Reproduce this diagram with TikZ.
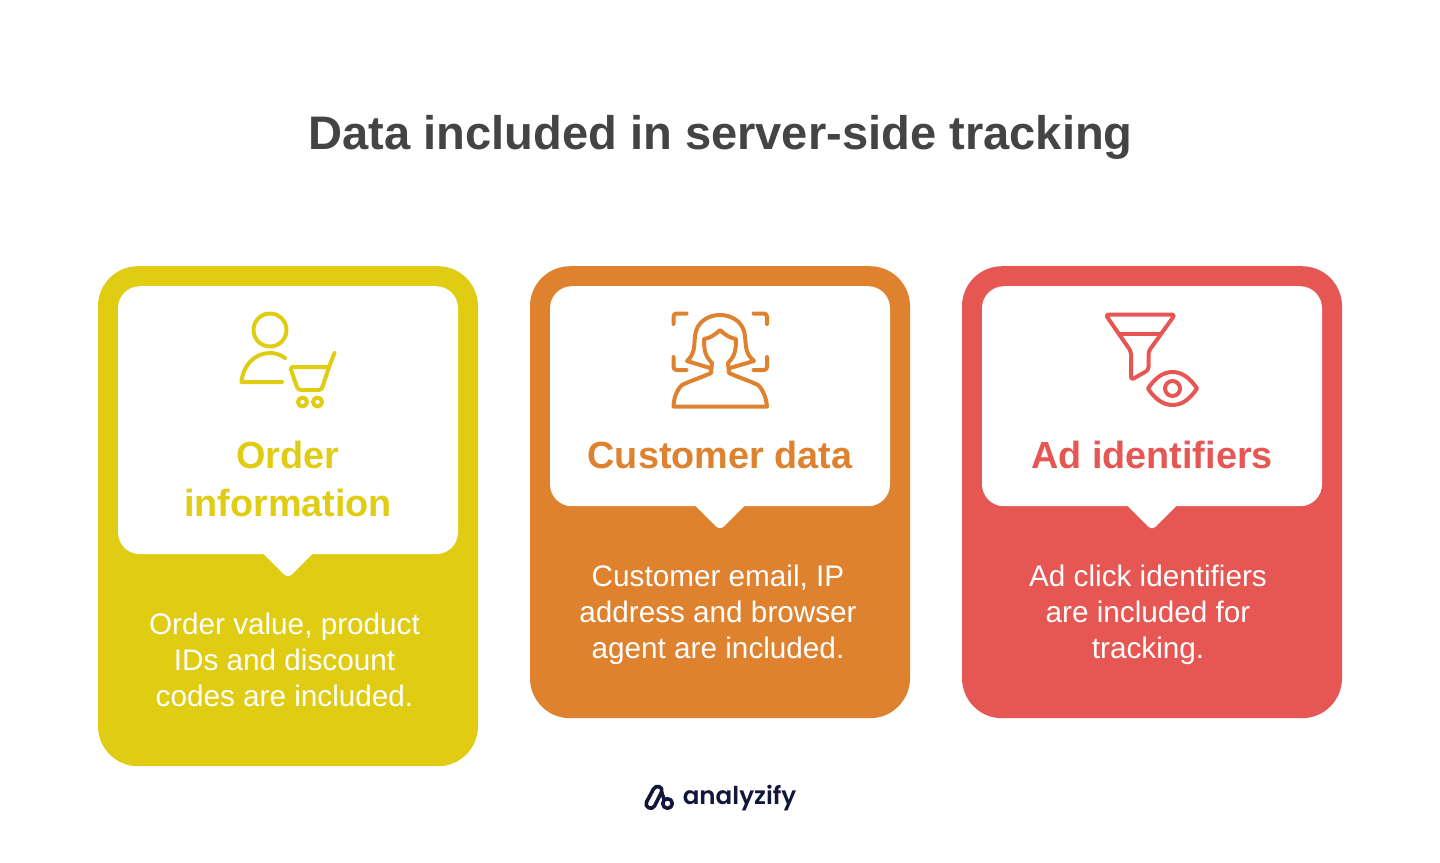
\documentclass[tikz,border=0pt]{standalone}
\usepackage{fontspec}
\setmainfont{Liberation Sans}
\newfontfamily\logofont{Poppins}[BoldFont={Poppins SemiBold}]
\definecolor{cardyellow}{HTML}{E0CC13}
\definecolor{cardorange}{HTML}{DE8230}
\definecolor{cardred}{HTML}{E65753}
\definecolor{titlegray}{HTML}{444444}
\definecolor{logonavy}{HTML}{12163A}
\tikzset{
  cardbox/.style={fill=#1, rounded corners=40pt, minimum width=380pt, inner sep=0pt, anchor=north},
  headbox/.style={fill=white, rounded corners=22pt, minimum width=340pt, inner sep=0pt, anchor=north},
  headtext/.style={text=#1, font=\fontsize{37.8}{48}\selectfont\bfseries, align=center, inner sep=0pt, anchor=base},
  bodytext/.style={text=white, font=\fontsize{29.7}{36}\selectfont, align=center, inner sep=0pt, anchor=base},
  iconline/.style={draw=#1, line width=4pt, fill=none},
}
\begin{document}
\begin{tikzpicture}[x=1pt,y=-1pt, line join=round, line cap=round]
  \useasboundingbox (0,0) rectangle (1440,862);
  \node[text=titlegray, font=\fontsize{47.1}{56}\selectfont\bfseries, inner sep=0pt, anchor=base] (title) at (720.5,149) {Data included in server-side tracking};
  % cards: number, centre, colour, card height, head height
  \foreach \n/\cx/\col/\hc/\hh in {1/288/cardyellow/500/268, 2/720/cardorange/452/220, 3/1152/cardred/452/220}{
    \node[cardbox=\col, minimum height=\hc pt] (card\n) at (\cx,266) {};
    \node[headbox, minimum height=\hh pt] (head\n) at (\cx,286) {};
    \fill[white, rounded corners=5pt] (head\n.south) ++(-30,-6) -- ++(30,30) -- ++(30,-30) -- cycle;
  }
  \node[headtext=cardyellow] (headA) at (288,516) {Order\\information};
  \node[headtext=cardorange] (headB) at (720,468) {Customer data};
  \node[headtext=cardred] (headC) at (1152,468) {Ad identifiers};
  \node[bodytext] (bodyA) at (284.5,706) {Order value, product\\IDs and discount\\codes are included.};
  \node[bodytext] (bodyB) at (718,658) {Customer email, IP\\address and browser\\agent are included.};
  \node[bodytext] (bodyC) at (1148,658) {Ad click identifiers\\are included for\\tracking.};
  % person with cart
  \begin{scope}[iconline=cardyellow]
    \draw (270,330) circle (16.5);
    \draw (282,382) -- (241.5,382) .. controls (243,365) and (255,353) .. (270,353) .. controls (276,353) and (281,355) .. (285,358);
    \draw (334.5,353) -- (329,367);
    \draw[rounded corners=3pt] (329,367) -- (290,367) -- (298,390) -- (321.5,390) -- (329,367);
    \draw (302.5,402) circle (4.5);
    \draw (317.5,402) circle (4.5);
  \end{scope}
  % face scan
  \begin{scope}[iconline=cardorange]
    \draw[rounded corners=3pt] (673.5,324) -- (673.5,313.5) -- (686.5,313.5);
    \draw[rounded corners=3pt] (753.5,313.5) -- (767,313.5) -- (767,324);
    \draw[rounded corners=3pt] (673.5,357) -- (673.5,370) -- (686.5,370);
    \draw[rounded corners=3pt] (753.5,370) -- (767,370) -- (767,357);
    \draw (710,368) -- (687,361) .. controls (697,352) and (693,342) .. (696,331) .. controls (699,321) and (709,315) .. (720,315) .. controls (731,315) and (741,321) .. (744,331) .. controls (747,342) and (743,352) .. (754,361) -- (730,368);
    \draw (720,330) .. controls (715,335) and (710,338) .. (704,339) .. controls (704,350) and (705,356) .. (712,363) -- (711,373) .. controls (700,378) and (690,381) .. (682,385) .. controls (676,391) and (674,398) .. (673.5,406.5) -- (767,406.5) .. controls (766,398) and (764,391) .. (758,385) .. controls (750,381) and (740,378) .. (729,373) -- (728,363) .. controls (735,356) and (736,350) .. (736,339) .. controls (730,338) and (725,335) .. (720,330) -- cycle;
  \end{scope}
  % funnel and eye
  \begin{scope}[iconline=cardred]
    \draw[rounded corners=3pt] (1105.5,314.5) -- (1175,314.5) -- (1148.5,351.5) -- (1148.5,370) -- (1131,380) -- (1131,351.5) -- cycle;
    \draw (1121,333.5) -- (1160,333.5);
    \draw (1148,388.5) .. controls (1155,378) and (1163,372) .. (1172.5,372) .. controls (1182,372) and (1190,378) .. (1197,388.5) .. controls (1190,399) and (1182,405) .. (1172.5,405) .. controls (1163,405) and (1155,399) .. (1148,388.5) -- cycle;
    \draw (1172.5,388.5) circle (7.5);
  \end{scope}
  % logo
  \draw[logonavy, line width=3.6pt] (646.5,802) -- (653.5,789) .. controls (656,784) and (664,787) .. (661.5,792) -- (654.5,806) .. controls (652,811) and (644,807) .. (646.5,802) -- cycle;
  \draw[logonavy, line width=3.6pt] (661.5,792) -- (664,799);
  \draw[logonavy, line width=3.6pt] (667.5,803.5) circle (4.8);
  \node[text=logonavy, font=\logofont\fontsize{24.6}{30}\selectfont\bfseries, inner sep=0pt, anchor=base] (logo) at (739.5,804) {analyzify};
\end{tikzpicture}
\end{document}
